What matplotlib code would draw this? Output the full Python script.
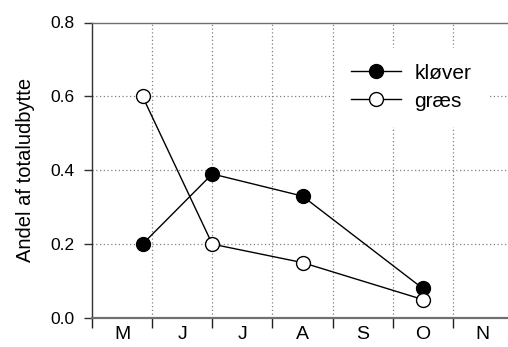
import matplotlib
matplotlib.use('Agg')
import matplotlib.pyplot as plt
import numpy as np

plt.rcParams['font.family'] = ['Liberation Sans', 'DejaVu Sans']

# month boundaries run 0..7 (May..Nov), points placed inside months
months = ['M', 'J', 'J', 'A', 'S', 'O', 'N']
x_klover = [0.84, 2.0, 3.5, 5.5]
y_klover = [0.20, 0.39, 0.33, 0.08]
x_graes = [0.84, 2.0, 3.5, 5.5]
y_graes = [0.60, 0.20, 0.15, 0.05]

fig = plt.figure(figsize=(5.08, 3.47), dpi=100)
ax = fig.add_axes([92 / 508, 29 / 347, 421 / 508, 295.5 / 347])

ax.plot(x_klover, y_klover, color='black', lw=1.0, marker='o', ms=10,
        mfc='black', mec='black', mew=1.0, label='kløver', zorder=3)
ax.plot(x_graes, y_graes, color='black', lw=1.0, marker='o', ms=10,
        mfc='white', mec='black', mew=1.0, label='græs', zorder=3)

ax.set_xlim(0, 7)
ax.set_ylim(0, 0.8)

ax.set_xticks(np.arange(0, 8))
ax.set_xticklabels([])
ax.set_xticks(np.arange(len(months)) + 0.5, minor=True)
ax.set_xticklabels(months, minor=True, fontsize=14)
ax.tick_params(axis='x', which='major', length=7.2, width=1.0, color='#202020')
ax.tick_params(axis='x', which='minor', length=0, pad=6)

ax.set_yticks([0, 0.2, 0.4, 0.6, 0.8])
ax.set_yticklabels(['0.0', '0.2', '0.4', '0.6', '0.8'], fontsize=12.5)
ax.tick_params(axis='y', length=5.8, width=1.0, color='#303030', pad=7)

ax.set_ylabel('Andel af totaludbytte', fontsize=14.5, labelpad=11)

for xv in range(1, 7):
    ax.axvline(xv, color='#808080', lw=0.9, ls=(0, (1, 2)), zorder=0)
for yv in [0.2, 0.4, 0.6]:
    ax.axhline(yv, color='#808080', lw=0.9, ls=(0, (1, 2)), zorder=0)

ax.spines['right'].set_visible(False)
ax.spines['left'].set_color('#303030')
ax.spines['left'].set_linewidth(1.0)
ax.spines['top'].set_color('#707070')
ax.spines['top'].set_linewidth(1.0)
ax.spines['bottom'].set_color('#707070')
ax.spines['bottom'].set_linewidth(1.6)

leg = ax.legend(loc='upper left', bbox_to_anchor=((335 - 92) / 421, (318 - 48) / 295.5),
                fontsize=15, frameon=True, fancybox=False, edgecolor='white',
                facecolor='white', framealpha=1, handlelength=2.4,
                handletextpad=0.67, labelspacing=0.44, borderpad=0.75,
                borderaxespad=0)
leg.set_zorder(2)

fig.savefig('out.png', dpi=100)
